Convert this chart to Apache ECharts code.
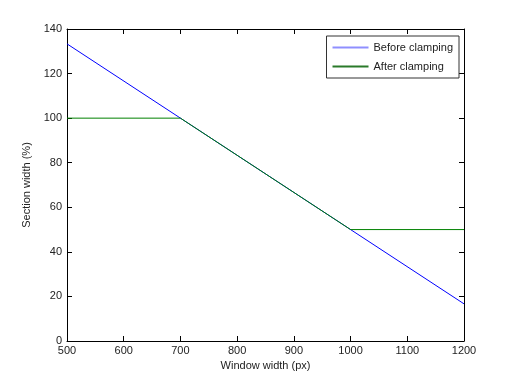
<!DOCTYPE html>
<html><head><meta charset="utf-8">
<script src="https://cdn.jsdelivr.net/npm/echarts@6/dist/echarts.min.js"></script>
<style>html,body{margin:0;padding:0;background:#fff}#c{width:512px;height:383px}</style>
</head><body><div id="c"></div>
<script>
const beforeX = [500, 1200];
const beforeY = [133.33, 16.67];
const afterX = [500, 700, 1000, 1200];
const afterY = [100, 100, 50, 50];
const xTicks = [500, 600, 700, 800, 900, 1000, 1100, 1200];
const yTicks = [0, 20, 40, 60, 80, 100, 120, 140];

const chart = echarts.init(document.getElementById('c'), null, {renderer: 'canvas'});
const font = 'Liberation Sans, Arial, sans-serif';
const axisCommon = {
  axisLine: {show: true, onZero: false, lineStyle: {color: '#000', width: 1}},
  axisTick: {show: true, inside: true, length: 5, lineStyle: {color: '#000'}},
  splitLine: {show: false}
};
const plain = v => String(v);
chart.setOption({
  animation: false,
  grid: {left: 67, right: 48, top: 29, bottom: 42},
  legend: {
    orient: 'vertical', right: 53, top: 36,
    data: [
      {name: 'Before clamping', icon: 'rect', itemStyle: {color: '#8f8fff', borderWidth: 0}},
      {name: 'After clamping', icon: 'rect', itemStyle: {color: '#2a7a2a', borderWidth: 0}}
    ],
    itemWidth: 36, itemHeight: 2, itemGap: 8,
    borderColor: '#333', borderWidth: 1, padding: [6, 6, 6, 6],
    backgroundColor: '#fff',
    textStyle: {fontFamily: font, fontSize: 11, color: '#222'}
  },
  xAxis: [
    Object.assign({type: 'value', min: xTicks[0], max: xTicks[xTicks.length-1], interval: 100, position: 'bottom',
      name: 'Window width (px)', nameLocation: 'middle', nameGap: 18,
      nameTextStyle: {fontFamily: font, fontSize: 11, color: '#222'},
      axisLabel: {fontFamily: font, fontSize: 11, color: '#222', margin: 4, formatter: plain}}, axisCommon),
    Object.assign({type: 'value', min: xTicks[0], max: xTicks[xTicks.length-1], interval: 100, position: 'top',
      axisLabel: {show: false}}, axisCommon)
  ],
  yAxis: [
    Object.assign({type: 'value', min: yTicks[0], max: yTicks[yTicks.length-1], interval: 20, position: 'left',
      name: 'Section width (%)', nameLocation: 'middle', nameGap: 27,
      nameTextStyle: {fontFamily: font, fontSize: 11, color: '#222'},
      axisLabel: {fontFamily: font, fontSize: 11, color: '#222', margin: 5, formatter: plain}}, axisCommon),
    Object.assign({type: 'value', min: yTicks[0], max: yTicks[yTicks.length-1], interval: 20, position: 'right',
      axisLabel: {show: false}}, axisCommon)
  ],
  series: [
    {name: 'Before clamping', type: 'line', showSymbol: false, symbol: 'none',
      data: beforeX.map((x, i) => [x, beforeY[i]]),
      lineStyle: {color: '#0000ff', width: 1}, itemStyle: {color: '#0000ff'}},
    {name: 'After clamping', type: 'line', showSymbol: false, symbol: 'none',
      data: afterX.map((x, i) => [x, afterY[i]]),
      lineStyle: {color: '#008000', width: 1}, itemStyle: {color: '#008000'}}
  ]
});
</script></body></html>
